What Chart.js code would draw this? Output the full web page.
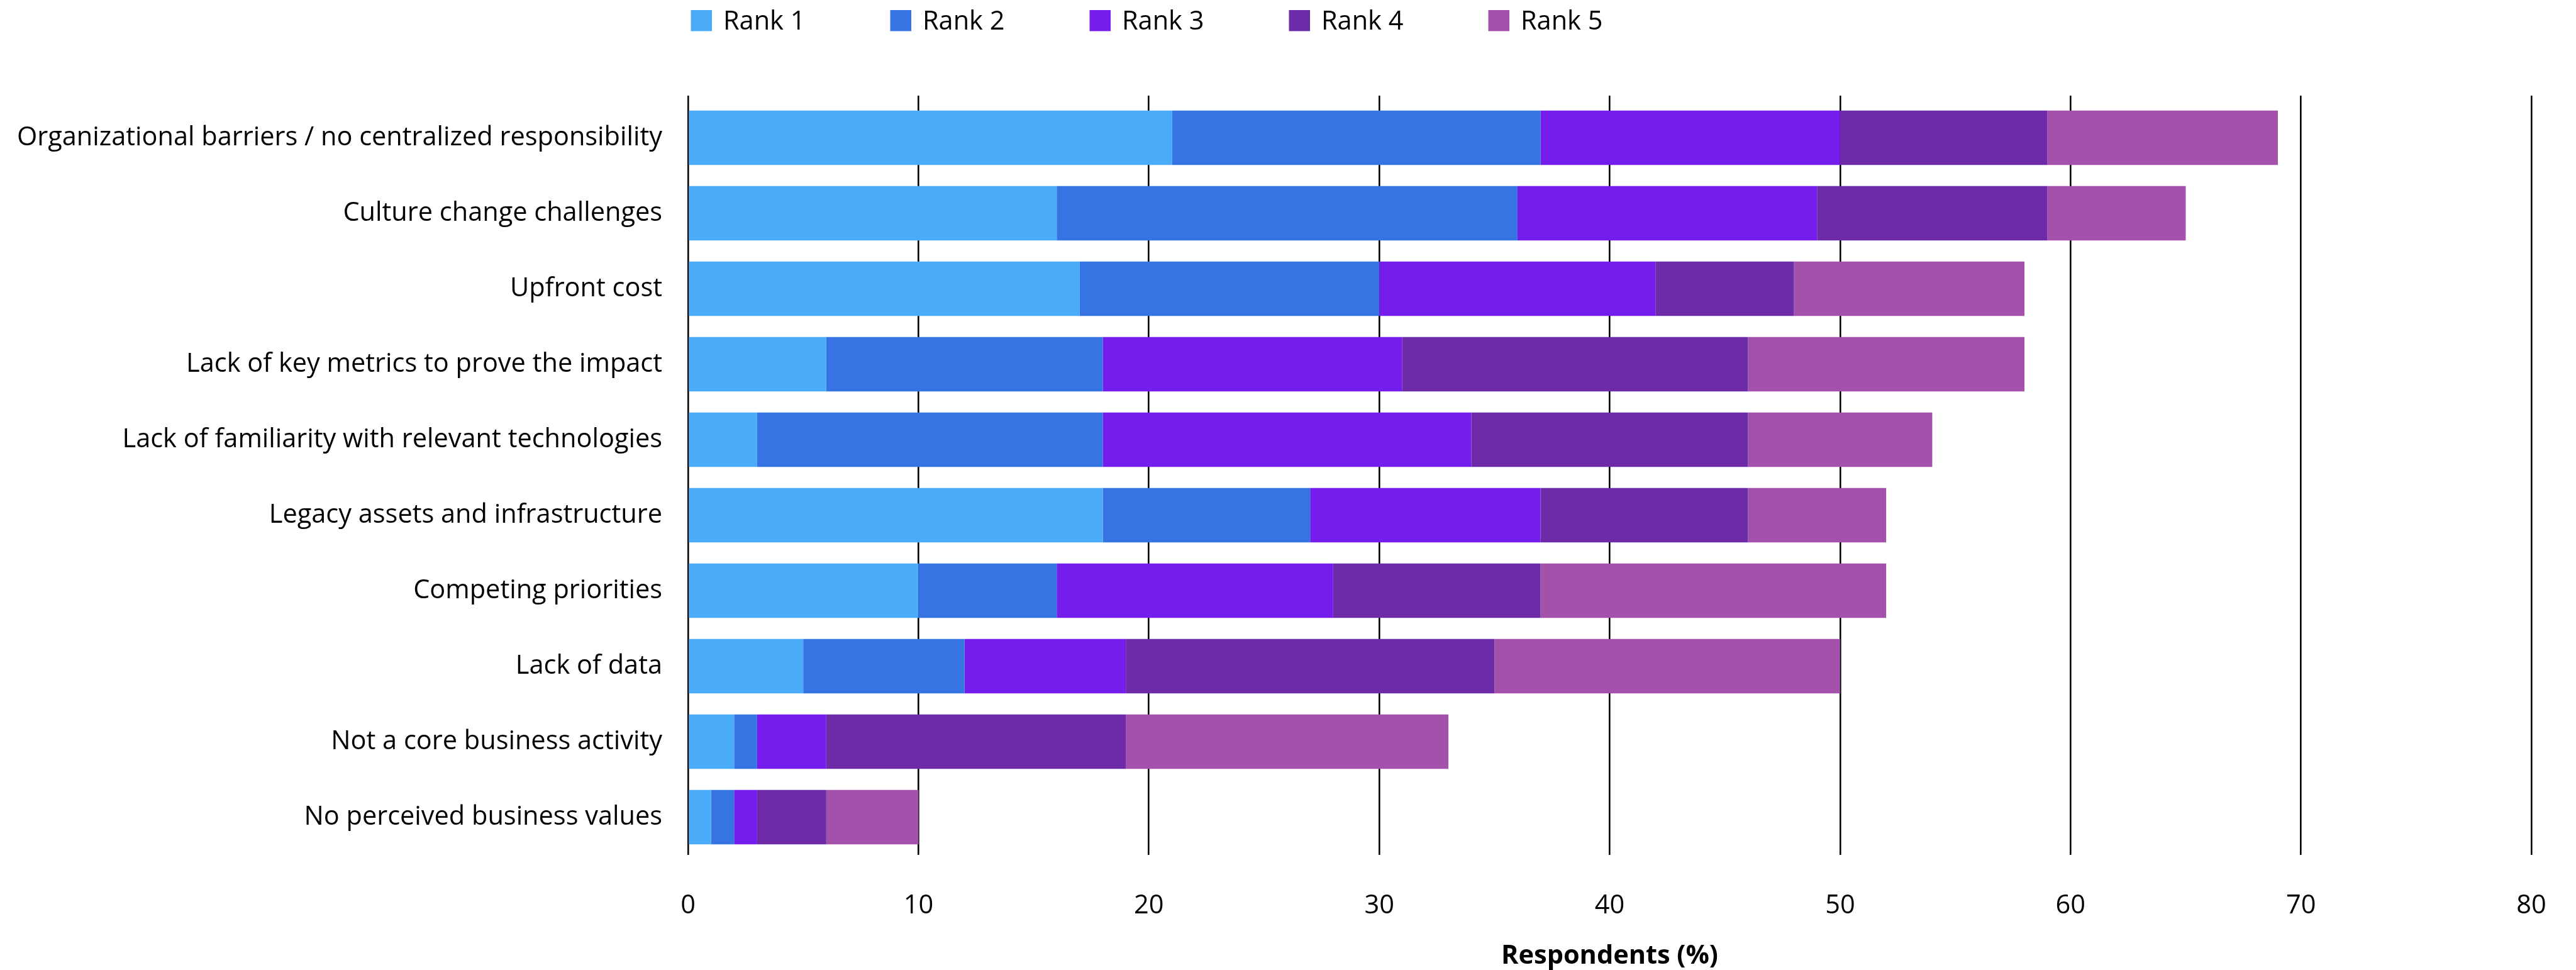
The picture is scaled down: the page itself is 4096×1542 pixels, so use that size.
<!DOCTYPE html>
<html>
<head>
<meta charset="utf-8">
<title>Barriers by rank</title>
<script src="https://cdn.jsdelivr.net/npm/chart.js@4.4.1/dist/chart.umd.min.js"></script>
<style>
  html, body { margin: 0; padding: 0; background: #fff; }
  canvas { display: block; }
</style>
</head>
<body>
<canvas id="chart" width="4096" height="1542"></canvas>
<script>
// Share of respondents ranking each barrier 1st..5th, stacked per barrier.
const categories = [
  'Organizational barriers / no centralized responsibility',
  'Culture change challenges',
  'Upfront cost',
  'Lack of key metrics to prove the impact',
  'Lack of familiarity with relevant technologies',
  'Legacy assets and infrastructure',
  'Competing priorities',
  'Lack of data',
  'Not a core business activity',
  'No perceived business values'
];

const rank1 = [21, 16, 17, 6, 3, 18, 10, 5, 2, 1];
const rank2 = [16, 20, 13, 12, 15, 9, 6, 7, 1, 1];
const rank3 = [13, 13, 12, 13, 16, 10, 12, 7, 3, 1];
const rank4 = [9, 10, 6, 15, 12, 9, 9, 16, 13, 3];
const rank5 = [10, 6, 10, 12, 8, 6, 15, 15, 14, 4];

const seriesNames = ['Rank 1', 'Rank 2', 'Rank 3', 'Rank 4', 'Rank 5'];
const seriesColors = ['#4aacf8', '#3674e3', '#751eeb', '#6d2ba8', '#a451ac'];

const xMin = 0;
const xMax = 80;
const xStep = 10;

const FONT = '"Open Sans", "Noto Sans", sans-serif';
const FONT_SIZE = 41.5;

Chart.defaults.font.family = FONT;
Chart.defaults.font.size = FONT_SIZE;
Chart.defaults.color = '#000';

// Legend row drawn above the plot, starting at the plot's left edge
const topLegend = {
  id: 'topLegend',
  afterDraw(chart) {
    const ctx = chart.ctx;
    const left = chart.chartArea.left + 4.5;
    const box = 33.5;
    const step = 317;
    ctx.save();
    ctx.font = FONT_SIZE + 'px ' + FONT;
    ctx.textBaseline = 'alphabetic';
    ctx.textAlign = 'left';
    chart.data.datasets.forEach((ds, i) => {
      const x = left + i * step;
      ctx.fillStyle = ds.backgroundColor;
      ctx.fillRect(x, 16, box, box);
      ctx.fillStyle = '#000';
      ctx.fillText(ds.label, x + box + 18, 47);
    });
    ctx.restore();
  }
};

const seriesValues = [rank1, rank2, rank3, rank4, rank5];

const datasets = seriesValues.map((values, i) => ({
  label: seriesNames[i],
  data: values,
  backgroundColor: seriesColors[i],
  borderWidth: 0,
  categoryPercentage: 1,
  barPercentage: 0.72
}));

new Chart(document.getElementById('chart'), {
  type: 'bar',
  data: { labels: categories, datasets: datasets },
  plugins: [topLegend],
  options: {
    indexAxis: 'y',
    responsive: false,
    animation: false,
    devicePixelRatio: 1,
    layout: { padding: { top: 152, right: 71, bottom: 0, left: 0 } },
    plugins: {
      legend: { display: false },
      tooltip: { enabled: false }
    },
    scales: {
      x: {
        type: 'linear',
        position: 'bottom',
        stacked: true,
        min: xMin,
        max: xMax,
        ticks: { stepSize: xStep, padding: 6, color: '#000' },
        // invisible tick marks push the labels down without widening the side padding
        grid: { color: '#000', lineWidth: 2.6, drawTicks: true, tickLength: 50, tickColor: 'rgba(0,0,0,0)' },
        border: { display: false },
        title: {
          display: true,
          text: 'Respondents (%)',
          color: '#000',
          font: { size: FONT_SIZE, weight: 'bold', lineHeight: 1 },
          padding: { top: 0, bottom: 1 }
        },
        afterFit(scale) { scale.height = 183; }
      },
      // short stubs of the vertical grid poking above the bars
      xTop: {
        type: 'linear',
        position: 'top',
        min: xMin,
        max: xMax,
        ticks: { display: false, stepSize: xStep },
        grid: { drawOnChartArea: false, drawTicks: true, tickLength: 7, color: '#000', lineWidth: 2.6 },
        border: { display: false }
      },
      y: {
        stacked: true,
        grid: { display: false, drawTicks: false },
        border: { display: false },
        ticks: { padding: 41, color: '#000', autoSkip: false },
        afterFit(scale) { scale.width = 1094; }
      }
    }
  }
});
</script>
</body>
</html>
